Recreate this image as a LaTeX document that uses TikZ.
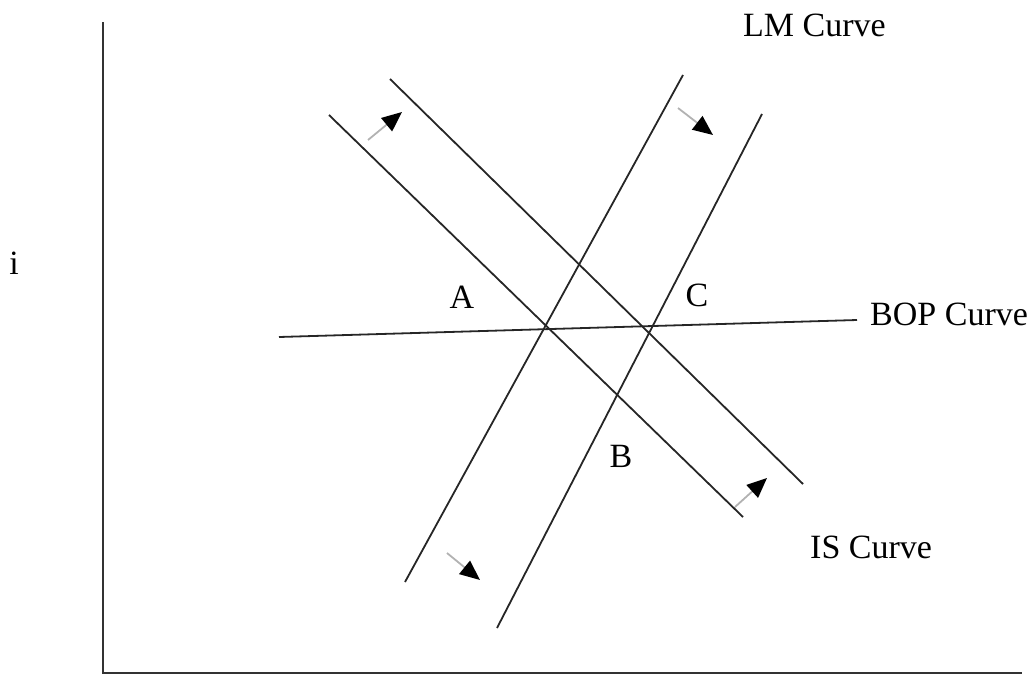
\documentclass[tikz,border=0pt]{standalone}
\usepackage{fontspec}
\setmainfont{Liberation Serif}
\usetikzlibrary{arrows.meta}
\begin{document}
\begin{tikzpicture}[x=1pt,y=-1pt,
  curve/.style={line width=1.8pt,draw=black!85},
  axis/.style={line width=2.6pt,draw=black!80},
  shiftarrow/.style={line width=1.8pt,draw=black!30,-{Triangle[length=20pt,width=17pt,color=black,fill=black]}},
  lbl/.style={font=\fontsize{34}{40}\selectfont,inner sep=0pt}]
\useasboundingbox (0,0) rectangle (1034,675);
% axes
\coordinate (ytop) at (103,22);
\coordinate (orig) at (103,673);
\coordinate (xend) at (1022,673);
\draw[axis] (ytop) -- (orig) -- (xend);
% IS curves
\coordinate (is1a) at (329,115); \coordinate (is1b) at (743,517);
\coordinate (is2a) at (390,79);  \coordinate (is2b) at (803,484);
\draw[curve] (is1a) -- (is1b);
\draw[curve] (is2a) -- (is2b);
% LM curves
\coordinate (lm1a) at (405,582); \coordinate (lm1b) at (683,75);
\coordinate (lm2a) at (497,628); \coordinate (lm2b) at (762,114);
\draw[curve] (lm1a) -- (lm1b);
\draw[curve] (lm2a) -- (lm2b);
% BOP
\coordinate (bopa) at (279,337); \coordinate (bopb) at (857,320);
\draw[curve] (bopa) -- (bopb);
% shift arrows
\coordinate (ar1a) at (368,140); \coordinate (ar1b) at (402,112);
\coordinate (ar2a) at (678,108); \coordinate (ar2b) at (713,135);
\coordinate (ar3a) at (735,507); \coordinate (ar3b) at (767,478);
\coordinate (ar4a) at (447,553); \coordinate (ar4b) at (480,580);
\draw[shiftarrow] (ar1a) -- (ar1b);
\draw[shiftarrow] (ar2a) -- (ar2b);
\draw[shiftarrow] (ar3a) -- (ar3b);
\draw[shiftarrow] (ar4a) -- (ar4b);
% labels
\node[lbl,anchor=base west] (lmlbl) at (743,36) {LM Curve};
\node[lbl,anchor=base west] (boplbl) at (870,325) {BOP Curve};
\node[lbl,anchor=base west] (islbl) at (810,558) {IS Curve};
\node[lbl,anchor=base] (ilbl) at (14,274) {i};
\node[lbl,anchor=base] (albl) at (462,308) {A};
\node[lbl,anchor=base] (clbl) at (697,306) {C};
\node[lbl,anchor=base] (blbl) at (621,467) {B};
\end{tikzpicture}
\end{document}
